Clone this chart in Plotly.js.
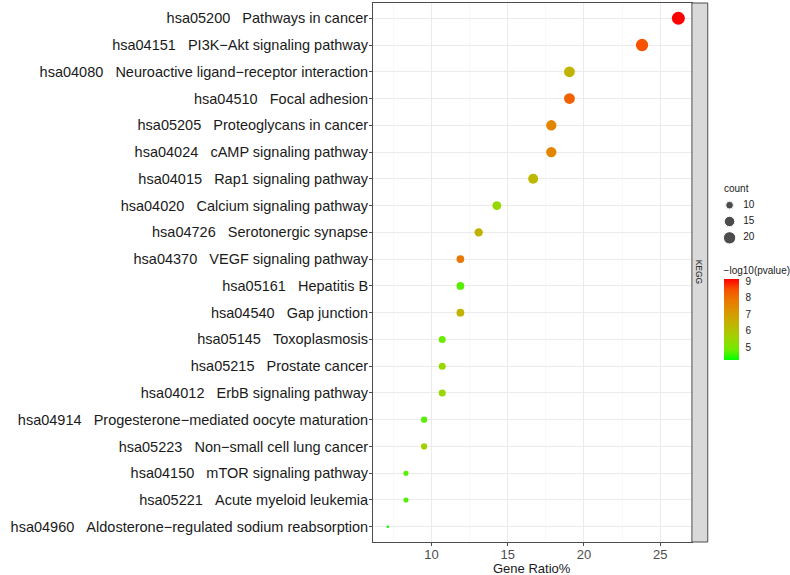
<!DOCTYPE html>
<html><head><meta charset="utf-8">
<script src="https://cdn.plot.ly/plotly-3.0.1.min.js"></script>
<style>html,body{margin:0;padding:0;background:#fff}</style>
</head><body><div id="chart" style="width:790px;height:575px"></div>
<script>
const pathwayIds = ["hsa05200","hsa04151","hsa04080","hsa04510","hsa05205","hsa04024","hsa04015","hsa04020","hsa04726","hsa04370","hsa05161","hsa04540","hsa05145","hsa05215","hsa04012","hsa04914","hsa05223","hsa04150","hsa05221","hsa04960"];
const pathwayNames = ["Pathways in cancer","PI3K\u2212Akt signaling pathway","Neuroactive ligand\u2212receptor interaction","Focal adhesion","Proteoglycans in cancer","cAMP signaling pathway","Rap1 signaling pathway","Calcium signaling pathway","Serotonergic synapse","VEGF signaling pathway","Hepatitis B","Gap junction","Toxoplasmosis","Prostate cancer","ErbB signaling pathway","Progesterone\u2212mediated oocyte maturation","Non\u2212small cell lung cancer","mTOR signaling pathway","Acute myeloid leukemia","Aldosterone\u2212regulated sodium reabsorption"];
const geneRatio = [26.19,23.81,19.05,19.05,17.86,17.86,16.67,14.29,13.10,11.90,11.90,11.90,10.71,10.71,10.71,9.52,9.52,8.33,8.33,7.14];
const geneCount = [22,20,16,16,15,15,14,12,11,10,10,10,9,9,9,8,8,7,7,6];
const negLog10P = [9.14,8.5,6.4,8.25,7.55,7.55,6.3,5.45,6.5,7.85,4.7,6.4,4.8,5.45,5.45,4.7,5.7,4.7,4.7,4.22];
const sizeLegendValues = [10,15,20];
const xTickVals = [10,15,20,25];
const colorTickVals = [5,6,7,8,9];
const facetLabel = "KEGG";

const W = 790, H = 575, ML = 373, MR = 0, MT = 3, MB = 33;
const plotW = W - ML - MR, plotH = H - MT - MB;
const px = p => (p - ML) / plotW;          // pixel x -> paper x
const py = p => (H - MB - p) / plotH;      // pixel y -> paper y
const panelRight = 695, stripRight = 711;

const cMin = Math.min(...geneCount), cMax = Math.max(...geneCount);
const sizeOf = c => 2.5 + 10.5 * Math.sqrt(Math.max(0, (c - cMin) / (cMax - cMin)));

const labels = pathwayIds.map((id, i) => id + "\u00a0\u00a0\u00a0" + pathwayNames[i]);

const colorscale = [
  [0, 'rgb(0,255,0)'], [0.125, 'rgb(112,235,0)'], [0.25, 'rgb(152,215,0)'],
  [0.375, 'rgb(179,193,0)'], [0.5, 'rgb(202,170,0)'], [0.625, 'rgb(220,145,0)'],
  [0.75, 'rgb(235,117,0)'], [0.875, 'rgb(247,80,0)'], [1, 'rgb(255,0,0)']
];
const fontFam = 'Liberation Sans, Arial, sans-serif';

const main = {
  type: 'scatter', mode: 'markers',
  x: geneRatio, y: labels,
  marker: {
    size: geneCount.map(sizeOf),
    color: negLog10P, colorscale: colorscale,
    cmin: 4.22, cmax: 9.14, opacity: 1,
    line: {width: 0},
    colorbar: {
      x: px(727), xanchor: 'left', xpad: 0,
      y: py(360), yanchor: 'bottom', ypad: 0,
      len: 97, lenmode: 'pixels', thickness: 15,
      outlinewidth: 0,
      tickvals: colorTickVals, ticks: 'outside', ticklen: 5, tickcolor: 'rgba(255,255,255,0)',
      tickfont: {size: 10, color: '#1A1A1A', family: fontFam},
      title: {text: '\u2212log10(pvalue)', side: 'top', font: {size: 10, color: '#1A1A1A', family: fontFam}}
    }
  },
  xaxis: 'x', yaxis: 'y', hoverinfo: 'none', showlegend: false
};

const sizeKeys = sizeLegendValues.map(String);
const legendDots = {
  type: 'scatter', mode: 'markers',
  x: sizeLegendValues.map(() => 0.26), y: sizeKeys,
  marker: {size: sizeLegendValues.map(sizeOf), color: '#000000'},
  xaxis: 'x2', yaxis: 'y2', hoverinfo: 'none', showlegend: false
};
const legendText = {
  type: 'scatter', mode: 'text',
  x: sizeLegendValues.map(() => 0.44), y: sizeKeys,
  text: sizeKeys, textposition: 'middle right',
  textfont: {size: 10, color: '#1A1A1A', family: fontFam},
  xaxis: 'x2', yaxis: 'y2', hoverinfo: 'none', showlegend: false
};

const layout = {
  width: W, height: H,
  margin: {l: ML, r: MR, t: MT, b: MB, pad: 0},
  paper_bgcolor: '#ffffff', plot_bgcolor: '#ffffff',
  font: {family: fontFam},
  xaxis: {
    domain: [0, px(panelRight)],
    range: [6.17, 27.08], tickvals: xTickVals,
    showgrid: true, gridcolor: '#EBEBEB', gridwidth: 1,
    minor: {dtick: 2.5, tick0: 0, showgrid: true, gridcolor: '#F3F3F3', gridwidth: 0.6},
    zeroline: false, showline: true, mirror: true, linecolor: '#4D4D4D', linewidth: 1,
    ticks: 'outside', ticklen: 3, tickcolor: '#4D4D4D',
    ticklabelstandoff: -3,
    tickfont: {size: 13, color: '#4D4D4D'},
    fixedrange: true
  },
  yaxis: {
    type: 'category', categoryarray: labels, categoryorder: 'array',
    range: [labels.length - 0.43, -0.57],
    showgrid: true, gridcolor: '#EBEBEB', gridwidth: 1,
    zeroline: false, showline: true, mirror: true, linecolor: '#4D4D4D', linewidth: 1,
    ticks: 'outside', ticklen: 3, tickcolor: '#4D4D4D',
    ticklabelstandoff: -2,
    tickfont: {size: 14.5, color: '#1A1A1A'},
    fixedrange: true
  },
  xaxis2: {domain: [px(713), 1], range: [0, 1], visible: false, fixedrange: true, anchor: 'y2'},
  yaxis2: {
    domain: [py(246), py(197)], type: 'category', categoryarray: sizeKeys, categoryorder: 'array',
    range: [sizeKeys.length - 0.5, -0.5], visible: false, fixedrange: true, anchor: 'x2'
  },
  shapes: [{
    type: 'rect', xref: 'paper', yref: 'paper',
    x0: px(panelRight), x1: px(stripRight), y0: 0, y1: 1,
    fillcolor: '#D9D9D9', line: {color: '#4D4D4D', width: 1}
  }],
  annotations: [
    {xref: 'paper', yref: 'paper', x: px((panelRight + stripRight) / 2), y: 0.5,
     text: facetLabel, textangle: 90, showarrow: false,
     font: {size: 8.5, color: '#1A1A1A'}, xanchor: 'center', yanchor: 'middle'},
    {xref: 'paper', yref: 'paper', x: px(725), y: py(188), text: 'count', showarrow: false,
     xanchor: 'left', yanchor: 'middle', font: {size: 10, color: '#1A1A1A'}},
    {xref: 'paper', yref: 'paper', x: px(534), y: py(568.5), text: 'Gene Ratio%', showarrow: false,
     xanchor: 'center', yanchor: 'middle', font: {size: 13, color: '#1A1A1A'}}
  ]
};

Plotly.newPlot('chart', [main, legendDots, legendText], layout, {staticPlot: true, displayModeBar: false});
</script></body></html>
